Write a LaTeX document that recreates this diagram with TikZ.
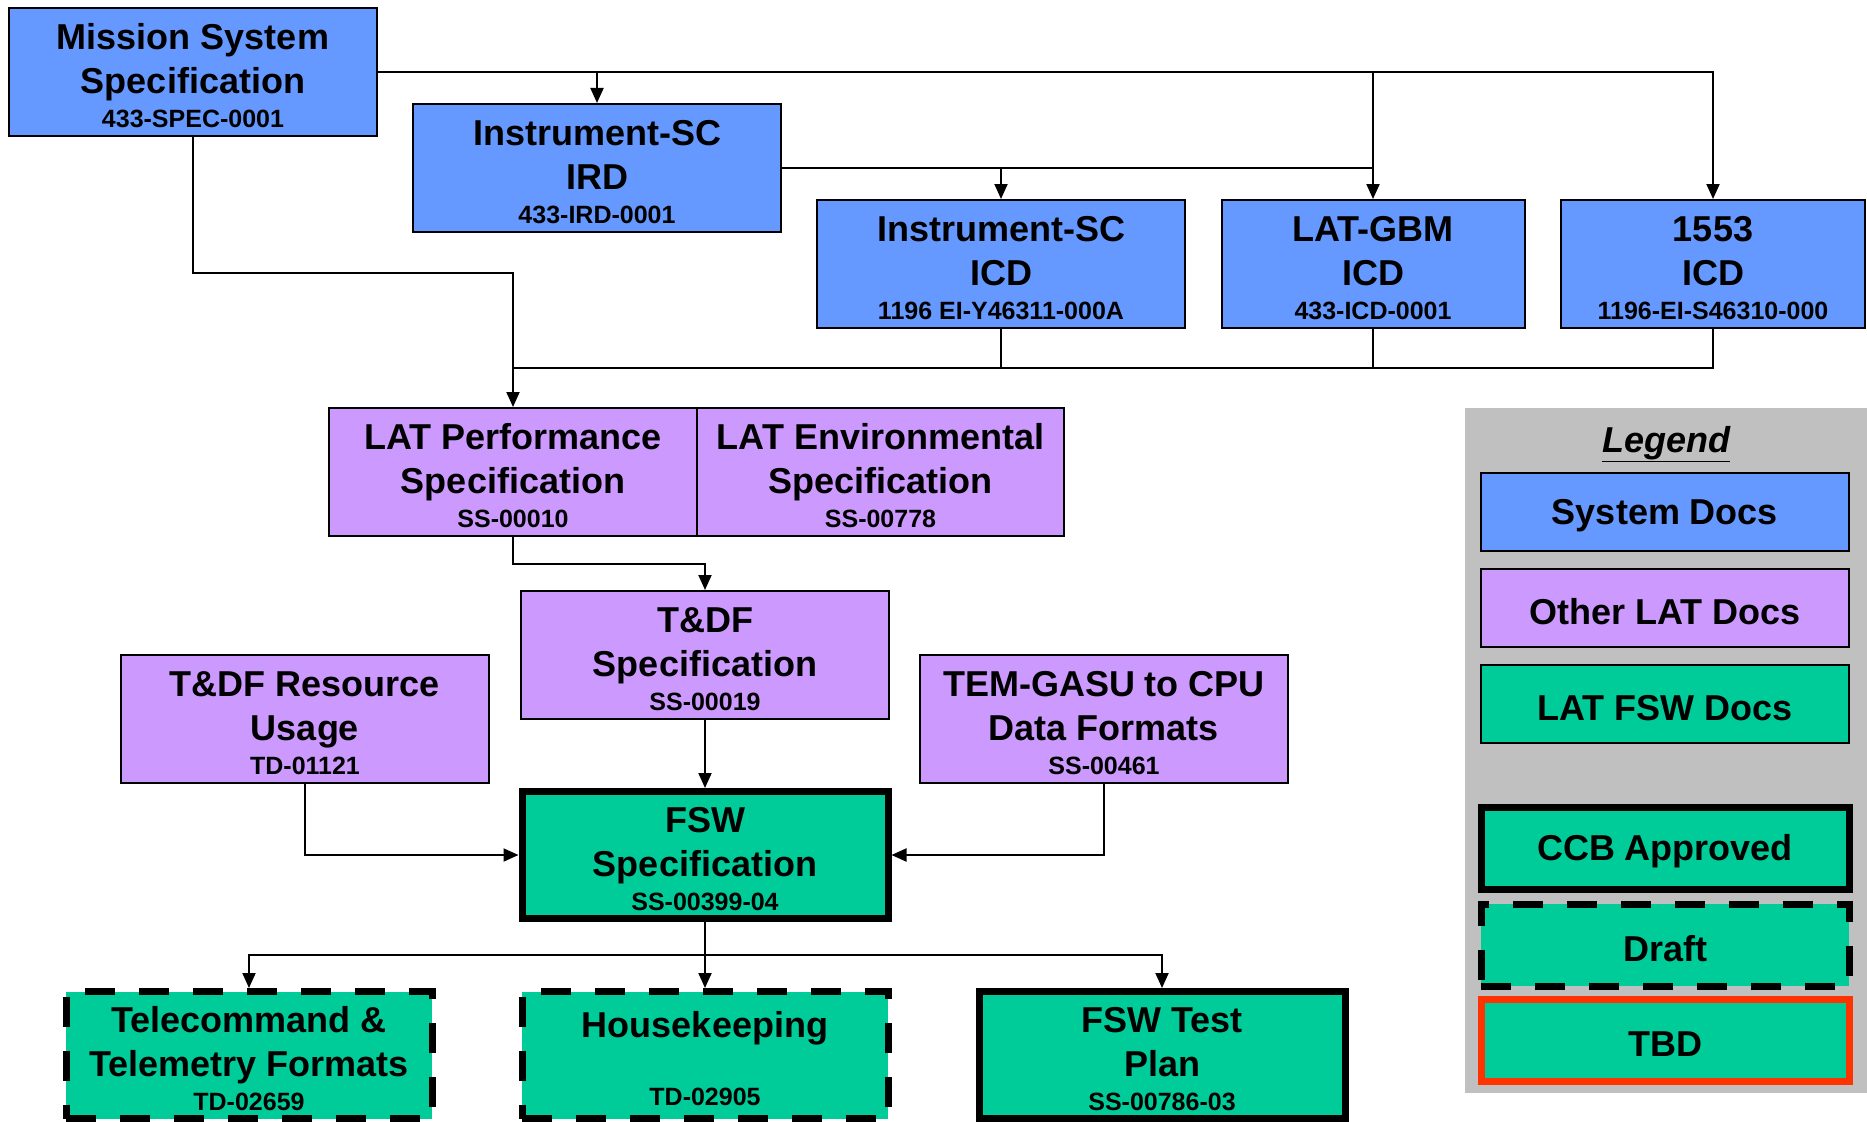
\documentclass[tikz,border=0pt]{standalone}
\usepackage{fontspec}
\setmainfont{Liberation Sans}
\usetikzlibrary{arrows.meta}
\definecolor{sysblue}{HTML}{6699FF}
\definecolor{latpurple}{HTML}{CC99FF}
\definecolor{fswgreen}{HTML}{00CC99}
\definecolor{legendgray}{HTML}{C0C0C0}
\definecolor{tbdred}{HTML}{FF3300}
\newcommand{\docnum}[1]{\\[-10pt]{\fontsize{25}{30}\selectfont #1}}
\newcommand{\doctext}[3]{\rule{0pt}{33pt}#1\\#2\docnum{#3}}

\begin{document}
\begin{tikzpicture}[x=1pt, y=-1pt, line width=2pt,
  >={Triangle[length=15pt,width=13pt]},
  doc/.style={draw, minimum width=368pt, minimum height=128pt, inner sep=2pt,
    align=center, font=\bfseries\fontsize{36}{44}\selectfont},
  sysdoc/.style={doc, fill=sysblue},
  latdoc/.style={doc, fill=latpurple},
  fswdoc/.style={doc, fill=fswgreen, minimum width=366pt, minimum height=127pt},
  approved/.style={line width=7pt},
  draft/.style={line width=7pt, dash pattern=on 30pt off 24pt},
  key/.style={draw, minimum width=368pt, minimum height=78pt, inner sep=2pt,
    font=\bfseries\fontsize{36}{44}\selectfont,
    execute at begin node={\rule{0pt}{33pt}}}]
\useasboundingbox (0,0) rectangle (1867,1121);

\node[sysdoc] (mss) at (193,72) {\doctext{Mission System}{Specification}{433-SPEC-0001}};
\node[sysdoc] (ird) at (597,168) {\doctext{Instrument-SC}{IRD}{433-IRD-0001}};
\node[sysdoc] (scicd) at (1001,264) {\doctext{Instrument-SC}{ICD}{1196 EI-Y46311-000A}};
\node[sysdoc, minimum width=303pt] (gbm) at (1373,264) {\doctext{LAT-GBM}{ICD}{433-ICD-0001}};
\node[sysdoc, minimum width=304pt] (bus1553) at (1713,264) {\doctext{1553}{ICD}{1196-EI-S46310-000}};

\node[latdoc] (perf) at (513,472) {\doctext{LAT Performance}{Specification}{SS-00010}};
\node[latdoc, minimum width=367pt] (env) at (880.5,472) {\doctext{LAT Environmental}{Specification}{SS-00778}};
\node[latdoc] (tdf) at (705,655) {\doctext{T\&DF}{Specification}{SS-00019}};
\node[latdoc] (res) at (305,719) {\doctext{T\&DF Resource}{Usage}{TD-01121}};
\node[latdoc] (gasu) at (1104,719) {\doctext{TEM-GASU to CPU}{Data Formats}{SS-00461}};

\node[fswdoc, approved] (fsw) at (705,855) {\doctext{FSW}{Specification}{SS-00399-04}};
\node[fswdoc, draft] (tlm) at (249,1055) {\doctext{Telecommand \&}{Telemetry Formats}{TD-02659}};
\node[fswdoc, draft] (hk) at (705,1055) {\rule{0pt}{33pt}Housekeeping\\[-10pt]\mbox{}\docnum{TD-02905}};
\node[fswdoc, approved] (test) at (1162,1055) {\doctext{FSW Test}{Plan}{SS-00786-03}};

\draw[->] (mss.east) -| (bus1553.north);
\draw[->] (ird.north |- mss.east) -- (ird.north);
\draw[->] (gbm.north |- mss.east) -- (gbm.north);
\draw (ird.east) -- (ird.east -| gbm.north);
\draw[->] (scicd.north |- ird.east) -- (scicd.north);

\coordinate (bend) at (513,273);
\coordinate (bus) at (513,368);
\draw (mss.south) |- (bend) -- (bus);
\draw (bus1553.south) |- (bus);
\draw (scicd.south) -- (scicd.south |- bus);
\draw (gbm.south) -- (gbm.south |- bus);
\draw[->] (bus) -- (perf.north);

\draw[->] (perf.south) -- ++(0,27) -| (tdf.north);
\draw[->] (tdf.south) -- (fsw.north);
\draw[->] (res.south) |- (fsw.west);
\draw[->] (gasu.south) |- (fsw.east);

\coordinate (split) at (705,955);
\draw (fsw.south) -- (split);
\draw[->] (split) -| (tlm.north);
\draw[->] (split) -- (hk.north);
\draw[->] (split) -| (test.north);

\fill[legendgray] (1465,408) rectangle (1867,1093);
\node[font=\bfseries\itshape\fontsize{36}{44}\selectfont] (legtitle) at (1666,444) {\underline{Legend}};
\node[key, fill=sysblue] (ksys) at (1665,512) {System Docs};
\node[key, fill=latpurple] (klat) at (1665,608) {Other LAT Docs};
\node[key, fill=fswgreen] (kfsw) at (1665,704) {LAT FSW Docs};
\node[key, fill=fswgreen, approved, minimum height=82pt] (kccb) at (1665,848) {CCB Approved};
\node[key, fill=fswgreen, draft, minimum height=82pt] (kdraft) at (1665,945) {Draft};
\node[key, fill=fswgreen, line width=7pt, draw=tbdred, minimum height=82pt] (ktbd) at (1665,1040) {TBD};
\end{tikzpicture}
\end{document}
